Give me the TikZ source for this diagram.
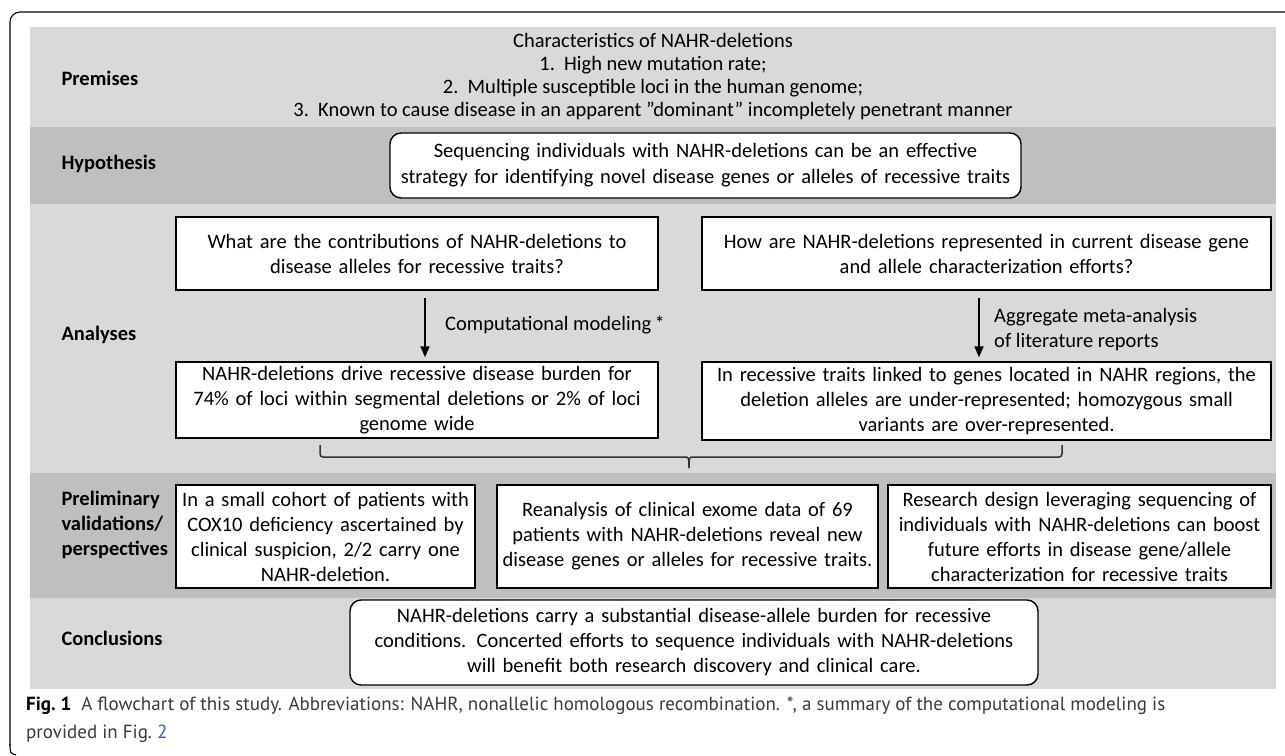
\documentclass[tikz,border=0pt]{standalone}
\usepackage{fontspec}
\setmainfont{Carlito}
\newfontfamily\capfont{PT Sans}
\usetikzlibrary{arrows.meta}
\definecolor{bandlight}{HTML}{D9D9D9}
\definecolor{banddark}{HTML}{BFBFBF}
\definecolor{capgray}{HTML}{3A3A3A}
\definecolor{linkblue}{HTML}{2F5BD8}
\definecolor{bracecol}{HTML}{333333}
\begin{document}
\begin{tikzpicture}[x=1pt,y=-1pt,
  font=\fontsize{20.5}{25}\selectfont,
  fbox/.style={draw=black, line width=1.4pt, fill=white, align=center, inner xsep=0pt, inner ysep=0pt},
  rbox/.style={fbox, rounded corners=11pt},
  lab/.style={anchor=west, align=left, font=\bfseries\fontsize{20.5}{25}\selectfont},
  arr/.style={line width=1.8pt, -{Triangle[width=9pt,length=11pt]}},
  bracel/.style={draw=bracecol, line width=1.5pt},
  plain/.style={align=left, inner sep=0pt}
]
\useasboundingbox (0,0) rectangle (1285,755);
% outer frame
\draw[line width=1.1pt, rounded corners=10pt] (1285,12) -- (10,12) -- (10,745);
\draw[line width=1.1pt] (10,744) .. controls (10,753) .. (16,755);
% bands
\fill[bandlight] (30,27) rectangle (1276,127);
\fill[banddark] (30,127) rectangle (1276,204);
\fill[bandlight] (30,204) rectangle (1276,473);
\fill[banddark] (30,473) rectangle (1276,598);
\fill[bandlight] (30,598) rectangle (1276,689);
% row labels
\node[lab] (lprem) at (58,78) {Premises};
\node[lab] (lhyp) at (58,164) {Hypothesis};
\node[lab] (lana) at (58,335) {Analyses};
\node[lab] (lpre) at (58,525) {Preliminary\\validations/\\perspectives};
\node[lab] (lcon) at (58,638) {Conclusions};
% premises
\node[align=center, font=\fontsize{20.5}{23}\selectfont] (prem) at (653,77) {Characteristics of NAHR-deletions\\1.~~High new mutation rate;\\2.~~Multiple susceptible loci in the human genome;\\3.~~Known to cause disease in an apparent ”dominant” incompletely penetrant manner};
% hypothesis
\node[rbox, text width=631pt, minimum height=65pt, font=\fontsize{20.5}{26}\selectfont] (hyp) at (705.5,165.5) {Sequencing individuals with NAHR-deletions can be an effective\\strategy for identifying novel disease genes or alleles of recessive traits};
% analyses
\node[fbox, text width=482pt, minimum height=73pt] (a1) at (417,253.5) {What are the contributions of NAHR-deletions to\\disease alleles for recessive traits?};
\node[fbox, text width=569pt, minimum height=73pt] (a2) at (986.5,253.5) {How are NAHR-deletions represented in current disease gene\\and allele characterization efforts?};
\node[fbox, text width=482pt, minimum height=76pt] (a3) at (417,400) {NAHR-deletions drive recessive disease burden for\\74\% of loci within segmental deletions or 2\% of loci\\genome wide};
\node[fbox, text width=569pt, minimum height=78pt] (a4) at (986.5,401) {In recessive traits linked to genes located in NAHR regions, the\\deletion alleles are under-represented; homozygous small\\variants are over-represented.};
\coordinate (ar1) at (425,0);
\coordinate (ar2) at (979,0);
\draw[arr, shorten <=7pt, shorten >=4pt] (a1.south -| ar1) -- (a3.north -| ar1);
\draw[arr, shorten <=7pt, shorten >=4pt] (a2.south -| ar2) -- (a4.north -| ar2);
\node[plain, anchor=west] (m1) at (445,325) {Computational modeling\,*};
\node[plain, anchor=west] (m2) at (994,329.5) {Aggregate meta-analysis\\of literature reports};
% brace
\coordinate (bl) at (320,445);
\coordinate (bm) at (689,468);
\coordinate (br) at (1062,445);
\draw[bracel, rounded corners=3pt] (bl) -- (320,457) -- (684,457);
\draw[bracel] (684,457) .. controls (689,457) .. (bm);
\draw[bracel] (bm) .. controls (689,457) .. (694,457);
\draw[bracel, rounded corners=3pt] (694,457) -- (1062,457) -- (br);
% preliminary
\node[fbox, text width=299pt, minimum height=103pt] (p1) at (325.5,536.5) {In a small cohort of patients with\\COX10 deficiency ascertained by\\clinical suspicion, 2/2 carry one\\NAHR-deletion.};
\node[fbox, text width=381pt, minimum height=103pt] (p2) at (687.5,536.5) {Reanalysis of clinical exome data of 69\\patients with NAHR-deletions reveal new\\disease genes or alleles for recessive traits.};
\node[fbox, text width=383pt, minimum height=103pt] (p3) at (1079.5,536.5) {Research design leveraging sequencing of\\individuals with NAHR-deletions can boost\\future efforts in disease gene/allele\\characterization for recessive traits};
% conclusions
\node[rbox, text width=688pt, minimum height=85pt] (con) at (694,642.5) {NAHR-deletions carry a substantial disease-allele burden for recessive\\conditions. Concerted efforts to sequence individuals with NAHR-deletions\\will benefit both research discovery and clinical care.};
% caption
\node[plain, anchor=north west, font=\capfont\fontsize{19}{28}\selectfont, text=capgray] (cap) at (26,697) {{\color{black}\bfseries Fig.~1}\hspace{10pt}A flowchart of this study. Abbreviations: NAHR, nonallelic homologous recombination. *, a summary of the computational modeling is\\provided in Fig.~{\color{linkblue}2}};
\end{tikzpicture}
\end{document}
